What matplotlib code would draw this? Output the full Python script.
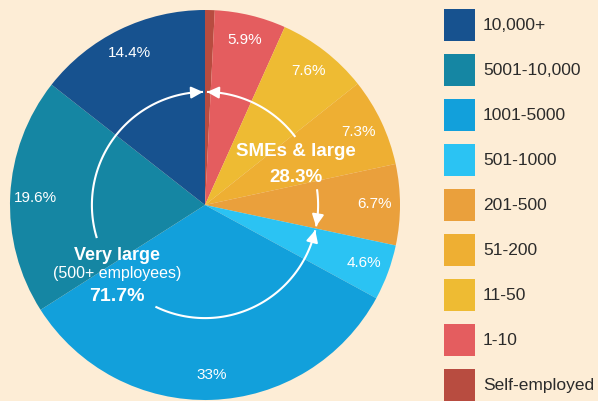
import numpy as np
import matplotlib.pyplot as plt

plt.rcParams["font.family"] = ["Liberation Sans", "DejaVu Sans"]

# clockwise from 12 o'clock
sizes = ["Self-employed", "1-10", "11-50", "51-200", "201-500",
         "501-1000", "1001-5000", "5001-10,000", "10,000+"]
shares = [0.8, 5.9, 7.6, 7.3, 6.7, 4.6, 33, 19.6, 14.4]
share_labels = ["", "5.9%", "7.6%", "7.3%", "6.7%", "4.6%", "33%", "19.6%", "14.4%"]
colors = ["#B84C40", "#E45D5F", "#EEBB33", "#EEAF33", "#EAA03C",
          "#2BC3F3", "#12A0DB", "#1586A3", "#17528F"]
group_names = ["SMEs & large", "Very large"]
group_shares = [28.3, 71.7]

bg = "#FDEDD6"
fig = plt.figure(figsize=(5.98, 4.01), dpi=100, facecolor=bg)
ax = fig.add_axes([10 / 598, 1 / 401, 390 / 598, 390 / 401])
ax.set_facecolor(bg)

wedges, _ = ax.pie(shares, colors=colors, startangle=90, counterclock=False,
                   radius=1, wedgeprops=dict(linewidth=0))
ax.set_xlim(-1, 1)
ax.set_ylim(-1, 1)
ax.set_aspect("equal")
ax.axis("off")

# percentage labels
cum = np.cumsum([0] + shares)
for i, lab in enumerate(share_labels):
    if not lab:
        continue
    mid = np.deg2rad(90 - (cum[i] + shares[i] / 2) / 100 * 360)
    ax.text(0.87 * np.cos(mid), 0.87 * np.sin(mid), lab, color="white",
            fontsize=11, ha="center", va="center")

# group arcs
r = 0.58
split = 90 - group_shares[0] / 100 * 360


def arc(a0, a1):
    t = np.deg2rad(np.linspace(a0, a1, 80))
    ax.plot(r * np.cos(t), r * np.sin(t), color="white", lw=1.5,
            solid_capstyle="butt")
    tip = np.deg2rad(a1)
    back = np.deg2rad(a1 - np.sign(a1 - a0) * 4)
    ax.annotate("", xy=(r * np.cos(tip), r * np.sin(tip)),
                xytext=(r * np.cos(back), r * np.sin(back)),
                arrowprops=dict(arrowstyle="-|>,head_length=0.7,head_width=0.35",
                                color="white", lw=1.5, shrinkA=0, shrinkB=0))


# SMEs & large (clockwise from top)
arc(37, 89)
arc(8, split + 1)
# Very large (counter-clockwise from top)
arc(197, 91)
arc(244, split + 359)

ax.text(0.465, 0.275, group_names[0], color="white", fontsize=13.5,
        fontweight="bold", ha="center", va="center")
ax.text(0.465, 0.143, f"{group_shares[0]}%", color="white", fontsize=13.5,
        fontweight="bold", ha="center", va="center")
ax.text(-0.45, -0.26, group_names[1], color="white", fontsize=13,
        fontweight="bold", ha="center", va="center")
ax.text(-0.45, -0.35, "(500+ employees)", color="white", fontsize=11.5,
        ha="center", va="center")
ax.text(-0.45, -0.47, f"{group_shares[1]}%", color="white", fontsize=14,
        fontweight="bold", ha="center", va="center")

leg = fig.legend(wedges[::-1], sizes[::-1], loc="upper left",
                 bbox_to_anchor=(444 / 598, 1 - 9 / 401), frameon=False,
                 fontsize=12.5, handlelength=1.79, handleheight=2.42,
                 labelspacing=0.775, handletextpad=0.45, borderaxespad=0,
                 borderpad=0)
for t in leg.get_texts():
    t.set_color("#2B2B2B")

fig.savefig("out.png", dpi=100, facecolor=bg)
